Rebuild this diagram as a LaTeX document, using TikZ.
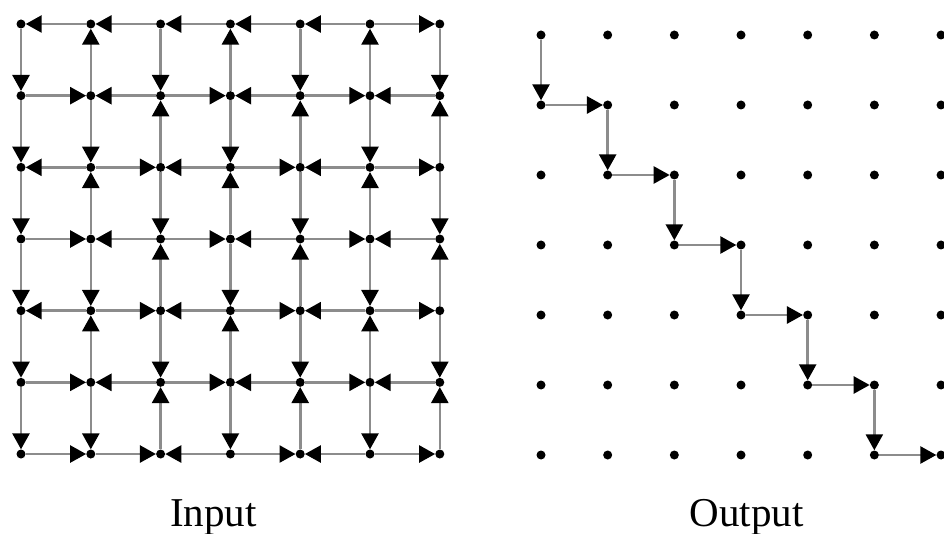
\documentclass[tikz,border=0pt]{standalone}
\usepackage{fontspec}
\setmainfont{Liberation Serif}
\usetikzlibrary{arrows.meta}
\definecolor{edgegray}{RGB}{140,140,140}
\tikzset{
  dot/.style={circle,fill=black,inner sep=0pt,minimum size=9pt},
  edge/.style={draw=edgegray,line width=2.6pt,-{Triangle[length=16pt,width=17pt,color=black]}},
  lbl/.style={anchor=base,font=\fontsize{41}{41}\selectfont}
}
\begin{document}
\begin{tikzpicture}[x=1pt,y=-1pt]
\useasboundingbox (0,0) rectangle (944,534);
% grid nodes
\foreach \r in {0,...,6}{
  \foreach \c in {0,...,6}{
    \node[dot] (i-\r-\c) at ({21+69.8*\c},{24+71.67*\r}) {};
    \node[dot] (o-\r-\c) at ({541+66.67*\c},{35+70*\r}) {};
  }
}
% horizontal edges of the input grid (L: towards left node, R: towards right node)
\foreach \r/\dl in {0/{L,L,L,L,L,R},1/{R,L,R,L,R,L},2/{L,R,L,R,L,R},3/{R,L,R,L,R,L},4/{L,R,L,R,L,R},5/{R,L,R,L,R,L},6/{R,R,L,R,L,R}}{
  \foreach \d [count=\c from 0] in \dl {
    \pgfmathtruncatemacro\cn{\c+1}
    \if\d L
      \draw[edge] (i-\r-\cn) -- (i-\r-\c);
    \else
      \draw[edge] (i-\r-\c) -- (i-\r-\cn);
    \fi
  }
}
% vertical edges of the input grid (D: towards lower node, U: towards upper node)
\foreach \r/\dl in {0/{D,U,D,U,D,U,D},1/{D,D,U,D,U,D,U},2/{D,U,D,U,D,U,D},3/{D,D,U,D,U,D,U},4/{D,U,D,U,D,U,D},5/{D,D,U,D,U,D,U}}{
  \foreach \d [count=\c from 0] in \dl {
    \pgfmathtruncatemacro\rn{\r+1}
    \if\d D
      \draw[edge] (i-\r-\c) -- (i-\rn-\c);
    \else
      \draw[edge] (i-\rn-\c) -- (i-\r-\c);
    \fi
  }
}
% output staircase path
\foreach \k in {0,...,5}{
  \pgfmathtruncatemacro\kn{\k+1}
  \draw[edge] (o-\k-\k) -- (o-\kn-\k);
  \draw[edge] (o-\kn-\k) -- (o-\kn-\kn);
}
\node[lbl] (inlabel) at (213.5,526) {Input};
\node[lbl] (outlabel) at (746.5,526) {Output};
\end{tikzpicture}
\end{document}
